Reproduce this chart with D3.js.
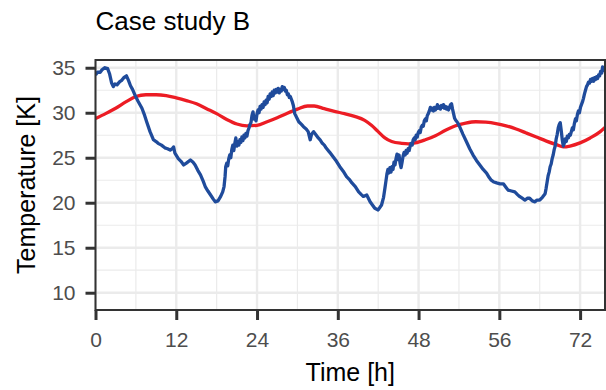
<!DOCTYPE html>
<html>
<head>
<meta charset="utf-8">
<script src="https://cdn.jsdelivr.net/npm/d3@7"></script>
<style>
  html, body { margin: 0; padding: 0; background: #ffffff; }
  svg { display: block; font-family: "Liberation Sans", Arial, sans-serif; }
</style>
</head>
<body>
<svg id="chart" width="606" height="390"></svg>
<script>
// Smooth temperature series (red)
const smoothHours = [0, 1.5, 3, 4.5, 6, 7.5, 9, 10.5, 12, 13.5, 15, 16.5, 18, 19.5, 21, 22.5, 24, 25.5, 27, 28.5, 30, 31.5, 32.5, 34, 35.5, 37, 38.5, 40, 41, 42, 43, 44, 45.5, 46.5, 47.5, 49, 50.5, 52, 53.5, 55, 56.5, 58, 59.5, 61, 62.5, 64, 65.5, 67, 68.5, 69.5, 70.5, 72, 73.5, 75, 75.7];
const smoothTemp = [29.35, 29.9, 30.5, 31.2, 31.8, 32.0, 32.0, 31.9, 31.65, 31.35, 31.0, 30.45, 29.9, 29.25, 28.75, 28.55, 28.6, 29.0, 29.45, 29.95, 30.4, 30.75, 30.75, 30.45, 30.15, 29.9, 29.6, 29.15, 28.6, 27.9, 27.2, 26.8, 26.6, 26.55, 26.65, 27.0, 27.45, 28.05, 28.55, 28.85, 29.0, 28.95, 28.8, 28.55, 28.2, 27.75, 27.3, 26.85, 26.45, 26.2, 26.3, 26.65, 27.2, 27.9, 28.35];

// Fluctuating temperature series (blue)
const roughHours = [
  0, 0.3, 0.7, 1.0, 1.4, 1.8, 2.1, 2.4, 2.65, 2.9, 3.2, 3.6, 3.9, 4.2, 4.6, 4.9, 5.2, 5.5, 5.9, 6.3, 6.9, 7.3, 7.6, 8.1, 8.6, 9.0, 9.3, 9.8, 10.3, 10.7, 11.1, 11.4, 11.6, 11.8, 12.3, 12.7, 13.1, 13.5, 14.1, 14.5, 14.8, 15.2, 15.6, 16.0, 16.3, 16.7, 17.1, 17.5, 17.8, 18.2, 18.6, 18.9,
  19.1, 19.25, 19.35, 19.5, 19.65, 19.8, 19.95, 20.1, 20.25, 20.4, 20.55, 20.7, 20.85, 21.0, 21.15, 21.3, 21.45, 21.6, 21.75, 21.9, 22.05, 22.2, 22.35, 22.5, 22.65, 22.8, 22.95, 23.1, 23.25, 23.4, 23.55, 23.7, 23.85, 24.0, 24.15, 24.3, 24.45, 24.6, 24.75, 24.9, 25.05, 25.2, 25.35, 25.5, 25.65, 25.8, 25.95, 26.1, 26.25, 26.4, 26.55, 26.7, 26.85, 27.0, 27.15, 27.3, 27.45, 27.6, 27.75, 27.9, 28.05, 28.2, 28.35, 28.5, 28.65, 28.8, 28.95, 29.1, 29.25,
  29.4, 29.6, 30.0, 30.2, 30.6, 30.9, 31.3, 31.6, 31.9, 32.1, 32.4, 32.8, 33.1, 33.4, 33.7, 34.0, 34.3, 34.8, 35.3, 35.8, 36.3, 36.8, 37.3, 37.7, 38.1, 38.6, 39.1, 39.5, 39.8, 40.3, 40.8, 41.2, 41.5, 42.0, 42.5, 42.8,
  43.0, 43.15, 43.3, 43.45, 43.6, 43.75, 43.9, 44.05, 44.2, 44.35, 44.5, 44.65, 44.8, 44.95, 45.1, 45.25, 45.4, 45.55, 45.7, 45.85, 46.0, 46.15, 46.3, 46.45, 46.6, 46.75, 46.9, 47.05, 47.2, 47.35, 47.5, 47.65, 47.8, 47.95, 48.1, 48.25, 48.4, 48.55, 48.7, 48.85, 49.0, 49.15, 49.3, 49.45, 49.6, 49.75, 49.9, 50.05, 50.2, 50.35, 50.5, 50.65, 50.8, 50.95, 51.1, 51.25, 51.4, 51.55, 51.7, 51.85, 52.0, 52.15, 52.3, 52.45, 52.6, 52.75, 52.9, 53.05, 53.2, 53.35,
  53.5, 53.8, 54.1, 54.6, 55.1, 55.6, 56.1, 56.6, 57.1, 57.6, 58.1, 58.5, 58.8, 59.2, 59.6, 60.1, 60.6, 61.0, 61.3, 61.8, 62.3, 62.7, 63.0, 63.4, 63.8, 64.2, 64.5, 64.9, 65.3, 65.6, 66.0, 66.4,
  66.8, 66.95, 67.1, 67.25, 67.4, 67.55, 67.7, 67.85, 68.0, 68.15, 68.3, 68.45, 68.6, 68.75, 68.9, 69.05, 69.2, 69.35, 69.5, 69.65, 69.8, 69.95, 70.1, 70.25, 70.4, 70.55, 70.7, 70.85, 71.0, 71.15, 71.3, 71.45, 71.6, 71.75, 71.9, 72.05, 72.2, 72.35, 72.5, 72.65, 72.8, 72.95, 73.1, 73.25, 73.4, 73.55, 73.7, 73.85, 74.0, 74.15, 74.3, 74.45, 74.6, 74.75, 74.9, 75.05, 75.2, 75.35, 75.5, 75.7
];
const roughTemp = [
  34.2, 34.5, 34.5, 34.8, 35.0, 34.9, 34.3, 33.3, 32.9, 33.2, 33.1, 33.45, 33.6, 33.9, 34.1, 33.6, 33.0, 32.6, 31.9, 31.3, 30.5, 29.7, 29.0, 27.9, 27.0, 26.8, 26.6, 26.4, 26.1, 26.0, 25.85, 26.0, 26.2, 25.5, 24.9, 24.6, 24.2, 24.4, 24.75, 24.5, 24.2, 23.6, 23.1, 22.4, 21.8, 21.3, 20.86, 20.4, 20.1, 20.2, 20.7, 21.2,
  21.8, 22.9, 24.0, 24.4, 24.1, 24.9, 25.3, 25.0, 25.9, 26.4, 25.8, 26.6, 27.2, 26.3, 26.8, 26.4, 27.0, 26.7, 27.3, 26.9, 27.5, 27.2, 27.7, 27.4, 28.0, 28.3, 28.7, 28.9, 29.7, 30.1, 29.3, 29.6, 29.1, 29.9, 30.3, 30.0, 30.7, 30.4, 30.9, 30.6, 31.2, 30.9, 31.4, 31.1, 31.8, 31.5, 32.1, 31.8, 32.3, 31.9, 32.5, 32.2, 32.6, 32.3, 32.7, 32.2, 32.6, 32.4, 32.9, 32.6, 32.8, 32.4, 32.5, 32.0, 32.1, 31.7, 31.8, 31.5, 31.2,
  30.8, 29.9, 29.3, 29.0, 28.7, 28.45, 28.2, 27.9, 27.0, 27.6, 27.9, 27.5, 27.2, 26.95, 26.6, 26.4, 26.05, 25.6, 25.1, 24.6, 24.0, 23.5, 22.9, 22.6, 22.2, 21.8, 21.2, 20.9, 20.7, 20.86, 20.1, 19.7, 19.38, 19.2, 19.75, 20.6,
  21.6, 22.4, 23.2, 23.7, 23.3, 23.9, 23.4, 24.0, 23.7, 24.5, 24.2, 24.9, 25.4, 24.8, 25.3, 24.4, 23.9, 24.5, 25.2, 25.6, 25.3, 25.8, 25.5, 26.0, 25.8, 26.3, 26.6, 26.4, 27.0, 27.2, 27.0, 27.5, 27.3, 27.8, 28.0, 27.8, 28.4, 28.6, 28.5, 29.1, 29.3, 29.1, 29.7, 29.9, 30.2, 30.6, 30.3, 30.5, 30.2, 30.6, 30.3, 30.5, 30.9, 30.5, 30.7, 30.4, 30.8, 30.6, 30.9, 30.5, 30.7, 30.4, 30.6, 30.3, 30.6, 30.9, 31.0, 30.4, 29.9, 29.4,
  29.2, 28.9, 28.45, 27.6, 26.8, 26.0, 25.3, 24.7, 24.2, 23.7, 23.3, 22.8, 22.5, 22.3, 22.2, 22.1, 22.1, 21.7, 21.4, 21.3, 21.2, 20.9, 20.7, 20.5, 20.3, 20.5, 20.5, 20.2, 20.1, 20.3, 20.3, 20.6,
  21.0, 21.6, 22.3, 23.0, 23.4, 24.0, 24.3, 24.9, 25.3, 25.9, 26.3, 27.1, 27.6, 28.3, 28.7, 28.9, 28.0, 27.0, 26.3, 26.6, 27.1, 26.8, 27.4, 27.2, 27.6, 27.5, 27.9, 28.3, 28.1, 28.8, 29.3, 29.1, 29.8, 30.2, 30.0, 30.6, 30.9, 31.2, 31.6, 32.1, 32.5, 32.9, 33.1, 33.4, 33.3, 33.7, 33.5, 33.8, 33.5, 33.9, 33.7, 34.0, 33.8, 34.2, 34.1, 34.6, 34.4, 35.1, 34.7, 34.9
];

// Axis ticks and labels
const xTickValues = [0, 12, 24, 36, 48, 60, 72];
const xTickLabels = ["0", "12", "24", "36", "48", "56", "72"];
const xMinorValues = [6, 18, 30, 42, 54, 66];
const yTickValues = [10, 15, 20, 25, 30, 35];
const yMinorValues = [12.5, 17.5, 22.5, 27.5, 32.5];

const chartTitle = "Case study B";
const xTitle = "Time [h]";
const yTitle = "Temperature [K]";

const W = 606, H = 390;
const margin = { top: 60, right: 1, bottom: 80, left: 95.5 };
const innerW = W - margin.left - margin.right;
const innerH = H - margin.top - margin.bottom;

const svg = d3.select("#chart");
const g = svg.append("g").attr("transform", `translate(${margin.left},${margin.top})`);

const x = d3.scaleLinear().domain([0, 75.7]).range([0, innerW]);
const y = d3.scaleLinear().domain([8.08, 35.86]).range([innerH, 0]);

const gridColor = "#ebebeb";

// minor grid
g.append("g").selectAll("line").data(xMinorValues).join("line")
  .attr("x1", d => x(d)).attr("x2", d => x(d))
  .attr("y1", 0).attr("y2", innerH)
  .attr("stroke", gridColor).attr("stroke-width", 1.2);
g.append("g").selectAll("line").data(yMinorValues).join("line")
  .attr("y1", d => y(d)).attr("y2", d => y(d))
  .attr("x1", 0).attr("x2", innerW)
  .attr("stroke", gridColor).attr("stroke-width", 1.2);
// major grid
g.append("g").selectAll("line").data(xTickValues).join("line")
  .attr("x1", d => x(d)).attr("x2", d => x(d))
  .attr("y1", 0).attr("y2", innerH)
  .attr("stroke", gridColor).attr("stroke-width", 2.4);
g.append("g").selectAll("line").data(yTickValues).join("line")
  .attr("y1", d => y(d)).attr("y2", d => y(d))
  .attr("x1", 0).attr("x2", innerW)
  .attr("stroke", gridColor).attr("stroke-width", 2.4);

// lines
const smoothData = smoothHours.map((h, i) => [h, smoothTemp[i]]);
const roughData = roughHours.map((h, i) => [h, roughTemp[i]]);

svg.append("defs").append("clipPath").attr("id", "panel-clip")
  .append("rect").attr("x", 0).attr("y", 0).attr("width", innerW).attr("height", innerH);

const lines = g.append("g").attr("clip-path", "url(#panel-clip)");
lines.append("path").datum(smoothData)
  .attr("d", d3.line().x(d => x(d[0])).y(d => y(d[1])).curve(d3.curveMonotoneX))
  .attr("fill", "none").attr("stroke", "#ec1c24").attr("stroke-width", 3.3)
  .attr("stroke-linejoin", "round");
lines.append("path").datum(roughData)
  .attr("d", d3.line().x(d => x(d[0])).y(d => y(d[1])))
  .attr("fill", "none").attr("stroke", "#1f4b9b").attr("stroke-width", 3.3)
  .attr("stroke-linejoin", "round");

// panel border
g.append("rect").attr("x", 0).attr("y", 0).attr("width", innerW).attr("height", innerH)
  .attr("fill", "none").attr("stroke", "#333333").attr("stroke-width", 2);

// axes
const xAxis = d3.axisBottom(x).tickValues(xTickValues)
  .tickFormat((d, i) => xTickLabels[i]).tickSize(10).tickPadding(12);
const yAxis = d3.axisLeft(y).tickValues(yTickValues)
  .tickFormat(d3.format("d")).tickSize(10).tickPadding(10);

const gx = g.append("g").attr("transform", `translate(0,${innerH})`).call(xAxis);
const gy = g.append("g").call(yAxis);
[gx, gy].forEach(a => {
  a.select(".domain").remove();
  a.selectAll(".tick line").attr("stroke", "#333333").attr("stroke-width", 3);
  a.selectAll(".tick text").attr("fill", "#4d4d4d").style("font-size", "21px")
    .style("font-family", "'Liberation Sans', Arial, sans-serif");
});

// titles
svg.append("text").attr("x", margin.left).attr("y", 30)
  .attr("fill", "#000").style("font-size", "26px").text(chartTitle);
svg.append("text").attr("x", margin.left + innerW / 2).attr("y", 381)
  .attr("text-anchor", "middle").attr("fill", "#000").style("font-size", "25px").text(xTitle);
svg.append("text")
  .attr("transform", `translate(35,${margin.top + innerH / 2}) rotate(-90)`)
  .attr("text-anchor", "middle").attr("fill", "#000").style("font-size", "25px").text(yTitle);
</script>
</body>
</html>
